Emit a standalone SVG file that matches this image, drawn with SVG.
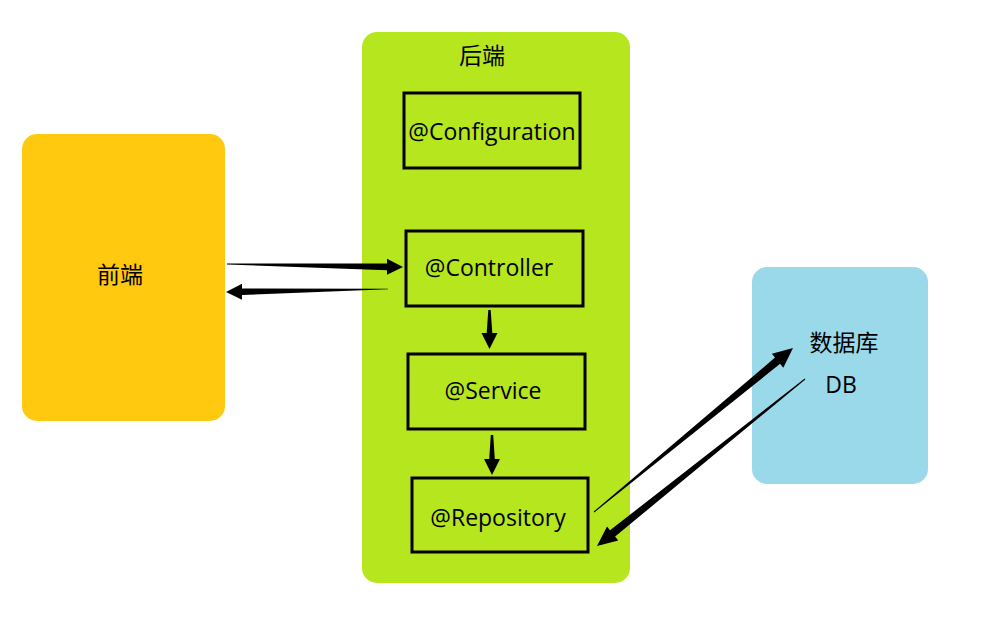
<svg xmlns="http://www.w3.org/2000/svg" width="1000" height="634" viewBox="0 0 1000 634">
  <style>
    .lbl { font-family: "Open Sans", "Liberation Sans", sans-serif; font-size: 23px; fill: #000; text-anchor: middle; }
    .cjk { font-family: "Noto Sans CJK SC", sans-serif; font-size: 23px; fill: #000; text-anchor: middle; }
    .box { fill: none; stroke: #000; stroke-width: 3; }
    .arr { fill: #000; stroke: none; }
  </style>
  <rect width="1000" height="634" fill="#fff"/>
  <g id="frontend">
    <rect x="22" y="134" width="203" height="287" rx="15" fill="#FEC90F"/>
    <text class="cjk" x="120" y="283">前端</text>
  </g>
  <g id="backend">
    <rect x="362" y="32" width="268" height="551" rx="15" fill="#B6E61E"/>
    <text class="cjk" x="482" y="64">后端</text>
  </g>
  <g id="configuration">
    <rect class="box" x="404" y="93" width="176" height="75"/>
    <text class="lbl" x="492" y="140">@Configuration</text>
  </g>
  <g id="controller">
    <rect class="box" x="406" y="231" width="177" height="75"/>
    <text class="lbl" x="489" y="276">@Controller</text>
  </g>
  <g id="service">
    <rect class="box" x="408" y="354" width="177" height="75"/>
    <text class="lbl" x="493" y="399">@Service</text>
  </g>
  <g id="repository">
    <rect class="box" x="412" y="478" width="176" height="74"/>
    <text class="lbl" x="498" y="526">@Repository</text>
  </g>
  <g id="db">
    <rect x="752" y="267" width="176" height="217" rx="15" fill="#99D9EA"/>
    <text class="cjk" x="844" y="351">数据库</text>
    <text class="lbl" x="841" y="393">DB</text>
  </g>
  <g id="connectors">
    <path class="arr" d="M227,263.5 L387,263.4 L387,258.7 L403,267 L387,274.7 L387,270.2 L227,264.5 Z"/>
    <path class="arr" d="M388,288.7 L242,288.4 L242,283.7 L226,292 L242,299.7 L242,295 L388,289.3 Z"/>
    <path class="arr" d="M488.3,310 L490.7,310 L492.3,333 L497.5,333 L489.5,349 L481.5,333 L486.7,333 Z"/>
    <path class="arr" d="M490.8,435 L493.2,435 L494.8,459 L500,459 L492,475 L484,459 L489.2,459 Z"/>
    <path class="arr" d="M593.7,511.6 L775.0,357.6 L771.9,353.8 L793,348 L783.3,367.7 L780.1,363.8 L594.3,512.4 Z"/>
    <path class="arr" d="M804.7,378.6 L610.0,530.3 L607.0,526.5 L597,546 L618.2,540.5 L615.1,536.6 L805.3,379.4 Z"/>
  </g>
</svg>
